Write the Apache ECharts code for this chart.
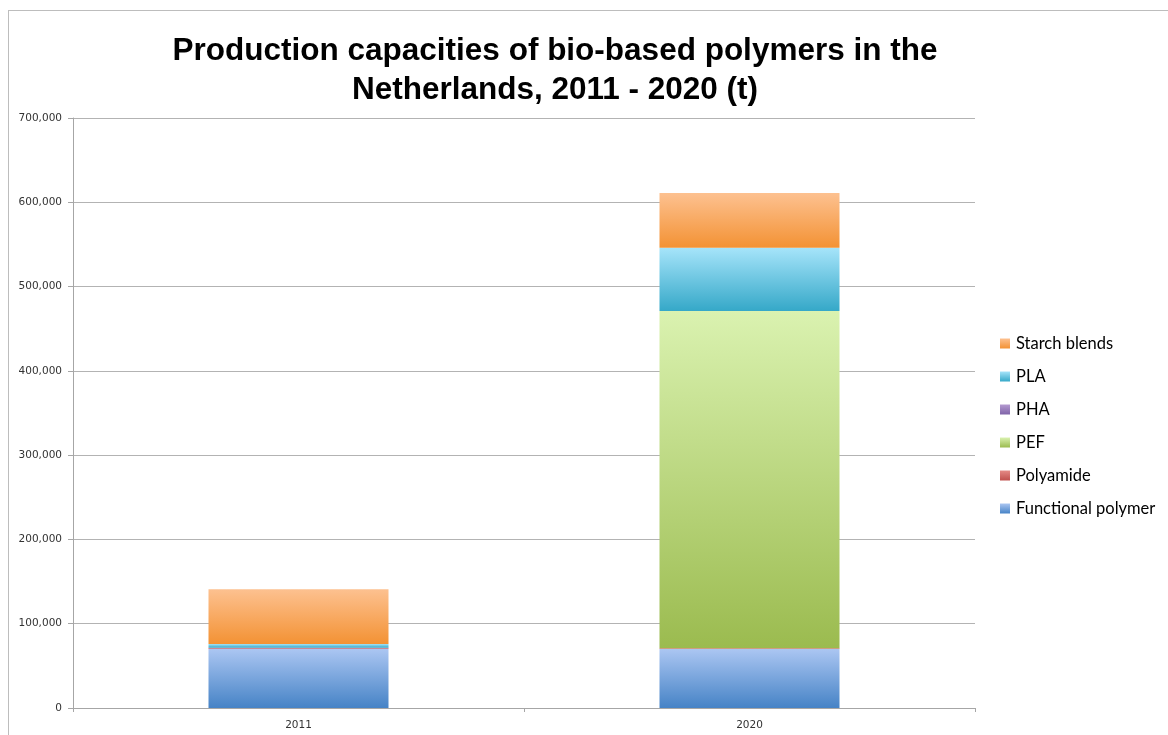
<!DOCTYPE html>
<html>
<head>
<meta charset="utf-8">
<script src="https://cdn.jsdelivr.net/npm/echarts@6/dist/echarts.min.js"></script>
<style>
  html, body { margin: 0; padding: 0; background: #fff; }
  #frame { position: absolute; left: 8px; top: 10px; width: 1200px; height: 760px; border: 1px solid #bdbdbd; box-sizing: border-box; }
  #main { position: absolute; left: 0; top: 0; width: 1168px; height: 735px; }
</style>
</head>
<body>
<div id="frame"></div>
<div id="main"></div>
<script>
// categories and series values (t)
var years = ["2011", "2020"];
var functionalPolymer = [70000, 70000];
var polyamide = [1000, 1000];
var pha = [500, 0];
var pef = [0, 400000];
var pla = [4500, 75000];
var starchBlends = [65000, 65000];
var yTicks = [0, 100000, 200000, 300000, 400000, 500000, 600000, 700000];

// gradient top -> bottom
function grad(top, bottom) {
  return new echarts.graphic.LinearGradient(0, 0, 0, 1, [
    { offset: 0, color: top },
    { offset: 1, color: bottom }
  ]);
}

function stackBar(name, data, top, bottom) {
  return {
    name: name,
    type: "bar",
    stack: "total",
    barWidth: 180,
    data: data,
    itemStyle: { color: grad(top, bottom) }
  };
}

var myChart = echarts.init(document.getElementById("main"));
var option = {
  animation: false,
  title: {
    text: "Production capacities of bio-based polymers in the\nNetherlands, 2011 - 2020 (t)",
    left: 550,
    textAlign: "center",
    top: 27,
    textStyle: { fontFamily: "Liberation Sans", fontWeight: "bold", fontSize: 31.5, lineHeight: 39, color: "#000" }
  },
  legend: {
    orient: "vertical",
    left: 995,
    top: 330,
    itemWidth: 10,
    itemHeight: 10,
    itemGap: 16,
    icon: "rect",
    data: ["Starch blends", "PLA", "PHA", "PEF", "Polyamide", "Functional polymer"],
    textStyle: { fontFamily: "Lato", fontSize: 16.5, color: "#000", padding: [0, 0, 0, 1] }
  },
  grid: { left: 73, right: 193, top: 118, bottom: 27 },
  xAxis: {
    type: "category",
    data: years,
    axisLine: { lineStyle: { color: "#a6a6a6" } },
    axisTick: { show: true, length: 4, lineStyle: { color: "#a6a6a6" } },
    axisLabel: { fontFamily: "DejaVu Sans", fontSize: 10.5, color: "#333", margin: 12 }
  },
  yAxis: {
    type: "value",
    min: 0,
    max: 700000,
    interval: 100000,
    axisLine: { show: true, lineStyle: { color: "#a6a6a6" } },
    axisTick: { show: true, length: 5, lineStyle: { color: "#a6a6a6" } },
    splitLine: { lineStyle: { color: "#b3b3b3" } },
    axisLabel: {
      fontFamily: "DejaVu Sans", fontSize: 10.5, color: "#333", margin: 11,
      formatter: function (v) { return yTicks.indexOf(v) >= 0 ? v.toLocaleString("en-US") : ""; }
    }
  },
  series: [
    stackBar("Functional polymer", functionalPolymer, "#abc6f2", "#4683c6"),
    stackBar("Polyamide", polyamide, "#e58a86", "#c0504d"),
    stackBar("PHA", pha, "#b49ad0", "#7f63a8"),
    stackBar("PEF", pef, "#daf2b0", "#9bbb4f"),
    stackBar("PLA", pla, "#a6e4fa", "#35a8c8"),
    stackBar("Starch blends", starchBlends, "#fdc190", "#f39234")
  ]
};
myChart.setOption(option);
</script>
</body>
</html>
